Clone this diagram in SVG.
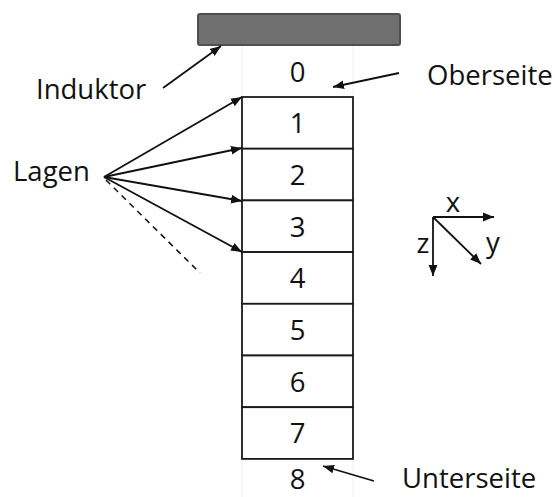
<svg xmlns="http://www.w3.org/2000/svg" width="555" height="497" viewBox="0 0 555 497">
  <defs>
    <marker id="tip" viewBox="0 0 10 10" refX="10" refY="5" markerWidth="11" markerHeight="11" markerUnits="userSpaceOnUse" orient="auto">
      <path d="M0,1 L10,5 L0,9 Z" fill="#111"/>
    </marker>
    <style>
      text { font-family: "Open Sans", "Liberation Sans", sans-serif; font-size: 27.5px; fill: #111; }
      .num { text-anchor: middle; }
      .layer { fill: #fff; stroke: #1a1a1a; stroke-width: 1.8; }
      .guide { stroke: #f0f0f0; stroke-width: 1; }
      .arrow { stroke: #111; stroke-width: 1.8; fill: none; marker-end: url(#tip); }
      .dash { stroke: #111; stroke-width: 1.5; stroke-dasharray: 6 5; fill: none; }
    </style>
  </defs>
  <rect width="555" height="497" fill="#fff"/>

  <!-- faint side guides above and below the stack -->
  <g id="guides">
    <line class="guide" x1="242" y1="46" x2="242" y2="97"/>
    <line class="guide" x1="353" y1="46" x2="353" y2="97"/>
    <line class="guide" x1="242" y1="459" x2="242" y2="497"/>
    <line class="guide" x1="353" y1="459" x2="353" y2="497"/>
  </g>

  <g id="inductor">
    <rect x="198" y="14" width="202" height="31" rx="2" fill="#6f6f6f" stroke="#4f4f4f" stroke-width="2"/>
  </g>

  <!-- layer stack -->
  <g id="layer1"><rect class="layer" x="242" y="97" width="111" height="51.7"/><text class="num" x="297.5" y="133">1</text></g>
  <g id="layer2"><rect class="layer" x="242" y="148.7" width="111" height="51.7"/><text class="num" x="297.5" y="184.5">2</text></g>
  <g id="layer3"><rect class="layer" x="242" y="200.4" width="111" height="51.7"/><text class="num" x="297.5" y="236.5">3</text></g>
  <g id="layer4"><rect class="layer" x="242" y="252.1" width="111" height="51.7"/><text class="num" x="297.5" y="288">4</text></g>
  <g id="layer5"><rect class="layer" x="242" y="303.8" width="111" height="51.7"/><text class="num" x="297.5" y="340">5</text></g>
  <g id="layer6"><rect class="layer" x="242" y="355.5" width="111" height="51.7"/><text class="num" x="297.5" y="391.5">6</text></g>
  <g id="layer7"><rect class="layer" x="242" y="407.2" width="111" height="51.7"/><text class="num" x="297.5" y="443">7</text></g>

  <g id="surface-top"><text class="num" x="297.5" y="82">0</text></g>
  <g id="surface-bottom"><text class="num" x="297.5" y="489">8</text></g>

  <g id="label-inductor"><text x="36" y="99">Induktor</text></g>
  <g id="label-layers"><text x="13" y="181">Lagen</text></g>
  <g id="label-top"><text x="427" y="85">Oberseite</text></g>
  <g id="label-bottom"><text x="402" y="488">Unterseite</text></g>

  <!-- coordinate axes -->
  <g id="axes">
    <line class="arrow" x1="433" y1="217" x2="494" y2="217"/>
    <line class="arrow" x1="433" y1="217" x2="433" y2="276"/>
    <line class="arrow" x1="433" y1="217" x2="481" y2="264"/>
    <text class="num" x="453" y="212">x</text>
    <text class="num" x="423" y="253">z</text>
    <text class="num" x="493" y="252">y</text>
  </g>

  <g id="connectors">
    <line class="arrow" x1="163" y1="88" x2="221" y2="46"/>
    <line class="arrow" x1="399" y1="73" x2="333" y2="87"/>
    <line class="arrow" x1="374" y1="481" x2="323" y2="466"/>
    <line class="arrow" x1="104" y1="177" x2="242" y2="97"/>
    <line class="arrow" x1="104" y1="177" x2="242" y2="148"/>
    <line class="arrow" x1="104" y1="177" x2="242" y2="201"/>
    <line class="arrow" x1="104" y1="177" x2="242" y2="252"/>
    <line class="dash" x1="106" y1="180" x2="200" y2="273"/>
  </g>
</svg>
